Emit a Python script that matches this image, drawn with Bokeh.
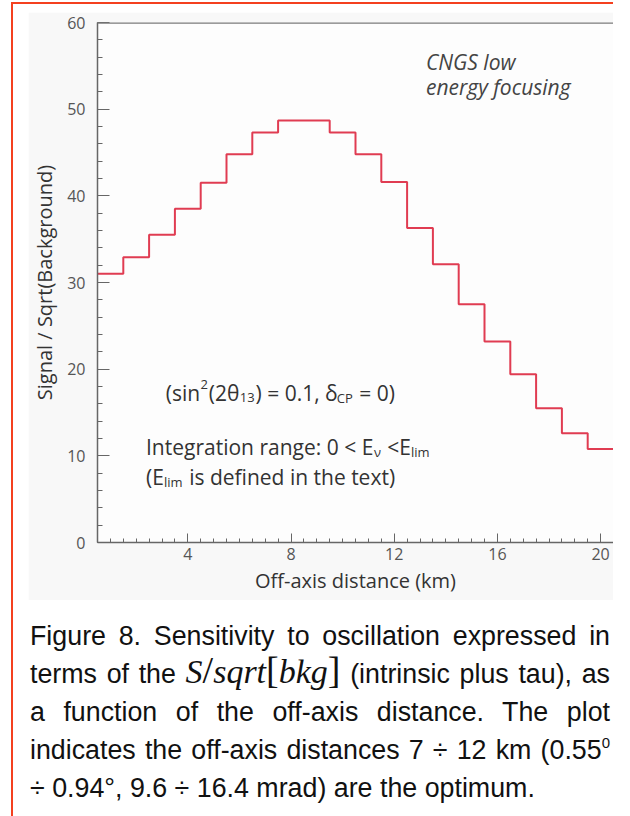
from bokeh.plotting import figure
from bokeh.models import Range1d, SingleIntervalTicker, Label, Span, Div
from bokeh.layouts import column
from bokeh.embed import file_html
from bokeh.resources import INLINE

# ---- data ---------------------------------------------------------------
off_axis_km = list(range(1, 21))          # bin centres (km), 1 km wide bins
signal_over_sqrt_bkg = [31.0, 32.9, 35.5, 38.5, 41.5, 44.8, 47.3, 48.7, 48.7, 47.3,
                        44.8, 41.6, 36.3, 32.1, 27.5, 23.2, 19.4, 15.5, 12.6, 10.8]
bin_width = 1.0
x_tick_step = 4
y_tick_step = 10

# ---- styling ------------------------------------------------------------
SANS = "Open Sans"
AXIS_GREY = "#666666"
TEXT_DARK = "#333333"
LINE_RED = "#e03c52"

p = figure(width=585, height=588,
           x_range=Range1d(0.5, 20.5), y_range=Range1d(0, 60),
           output_backend="svg", toolbar_location=None,
           min_border_left=64, min_border_right=0,
           min_border_top=10, min_border_bottom=58,
           background_fill_color="#fdfdfd", border_fill_color="#f8f8f8")
p.outline_line_color = None
p.xgrid.visible = False
p.ygrid.visible = False

p.xaxis.ticker = SingleIntervalTicker(interval=x_tick_step, num_minor_ticks=8)
p.yaxis.ticker = SingleIntervalTicker(interval=y_tick_step, num_minor_ticks=5)
for ax in (p.xaxis[0], p.yaxis[0]):
    ax.axis_line_color = AXIS_GREY
    ax.axis_line_width = 1.5
    ax.major_tick_line_color = AXIS_GREY
    ax.minor_tick_line_color = AXIS_GREY
    ax.major_tick_out = 0
    ax.minor_tick_out = 0
    ax.major_label_text_font = SANS
    ax.major_label_text_font_size = "16px"
    ax.major_label_text_color = "#555555"
    ax.axis_label_text_font = SANS
    ax.axis_label_text_font_size = "20px"
    ax.axis_label_text_font_style = "normal"
    ax.axis_label_text_color = TEXT_DARK
p.xaxis.major_tick_in = 9
p.xaxis.minor_tick_in = 4
p.yaxis.major_tick_in = 12
p.yaxis.minor_tick_in = 5
p.xaxis.major_label_standoff = 5
p.yaxis.major_label_standoff = 12
p.xaxis.axis_label = "Off-axis distance (km)"
p.yaxis.axis_label = "Signal / Sqrt(Background)"
p.xaxis.axis_label_standoff = 4
p.yaxis.axis_label_standoff = 6

# top frame line
p.add_layout(Span(location=60, dimension="width", line_color="#7a7a7a", line_width=2.5))

# histogram drawn as a step outline
edges = [c - bin_width / 2 for c in off_axis_km] + [off_axis_km[-1] + bin_width / 2]
levels = signal_over_sqrt_bkg + [signal_over_sqrt_bkg[-1]]
p.step(x=edges, y=levels, mode="after", line_color=LINE_RED, line_width=2)

# approximate advance widths (em) used to chain sub/superscript pieces
W = {' ': 0.26, '(': 0.296, ')': 0.296, 's': 0.479, 'i': 0.258, 'n': 0.613,
     '2': 0.572, 'θ': 0.60, '=': 0.572, '0': 0.572, '.': 0.267, '1': 0.572,
     '3': 0.572, ',': 0.245, 'δ': 0.56, 'I': 0.279, 't': 0.361, 'e': 0.561,
     'g': 0.549, 'r': 0.408, 'a': 0.556, 'o': 0.601, ':': 0.267, '<': 0.572,
     'E': 0.556, 'C': 0.633, 'P': 0.603, 'ν': 0.53, 'l': 0.258, 'm': 0.929,
     'f': 0.344, 'd': 0.613, 'h': 0.613, 'x': 0.529}


def text_width(s, size):
    return sum(W.get(ch, 0.55) for ch in s) * size


def chain(x, y, pieces, size=21, color=TEXT_DARK):
    off = 0.0
    for txt, kind in pieces:
        fs = size if kind == "n" else round(size * 0.6)
        lead = len(txt) - len(txt.lstrip(" "))
        off += lead * W[' '] * fs
        txt = txt.lstrip(" ")
        dy = {"n": 0.0, "sub": -0.6, "sup": 0.95}[kind]
        p.add_layout(Label(x=x, y=y + dy, x_offset=off, text=txt, text_font=SANS,
                           text_font_size=f"{fs}px", text_color=color,
                           text_baseline="alphabetic"))
        off += text_width(txt, fs) + (1.0 if kind != "n" else 0.0)


chain(3.15, 17.3, [("(sin", "n"), ("2", "sup"), ("(2θ", "n"), ("13", "sub"),
                   (") = 0.1, δ", "n"), ("CP", "sub"), (" = 0)", "n")])
chain(2.38, 11.0, [("Integration range: 0 < E", "n"), ("ν", "sub"),
                   (" <E", "n"), ("lim", "sub")])
chain(2.38, 7.6, [("(E", "n"), ("lim", "sub"), (" is defined in the text)", "n")])

for txt, yb in (("CNGS low", 55.4), ("energy focusing", 52.6)):
    p.add_layout(Label(x=13.23, y=yb, text=txt, text_font=SANS, text_font_size="21px",
                       text_font_style="italic", text_color="#444444",
                       text_baseline="alphabetic"))

p.margin = (8, 0, 0, 15)

MATH = "font-family:'Liberation Serif',serif;line-height:0;"
caption_html = (
    '<div style="font-family:\'Liberation Sans\',Arial,sans-serif;font-size:26.8px;'
    'line-height:38px;text-align:justify;color:#111;">'
    'Figure 8. Sensitivity to oscillation expressed in terms of the '
    f'<span style="{MATH}font-size:34px;">'
    '<i>S</i><span style="font-size:38px;">/</span><i>sqrt</i>'
    '<span style="font-size:38px;">[</span><i>bkg</i><span style="font-size:38px;">]</span>'
    '</span> (intrinsic plus tau), as a function of the off-axis distance. The plot '
    'indicates the off-axis distances 7 ÷ 12 km (0.55'
    '<span style="font-size:15px;position:relative;top:-11px;line-height:0;">0</span> '
    '÷ 0.94°, 9.6 ÷ 16.4 mrad) are the optimum.</div>'
)
caption = Div(text=caption_html, width=580, height=200, margin=(17, 0, 0, 17))

page = column(p, caption, margin=(2, 0, 0, 11),
              styles={"border-left": "2px solid #f4401f",
                      "border-top": "2px solid #f4401f",
                      "background-color": "white"})

open("out.html", "w").write(file_html(page, INLINE))
